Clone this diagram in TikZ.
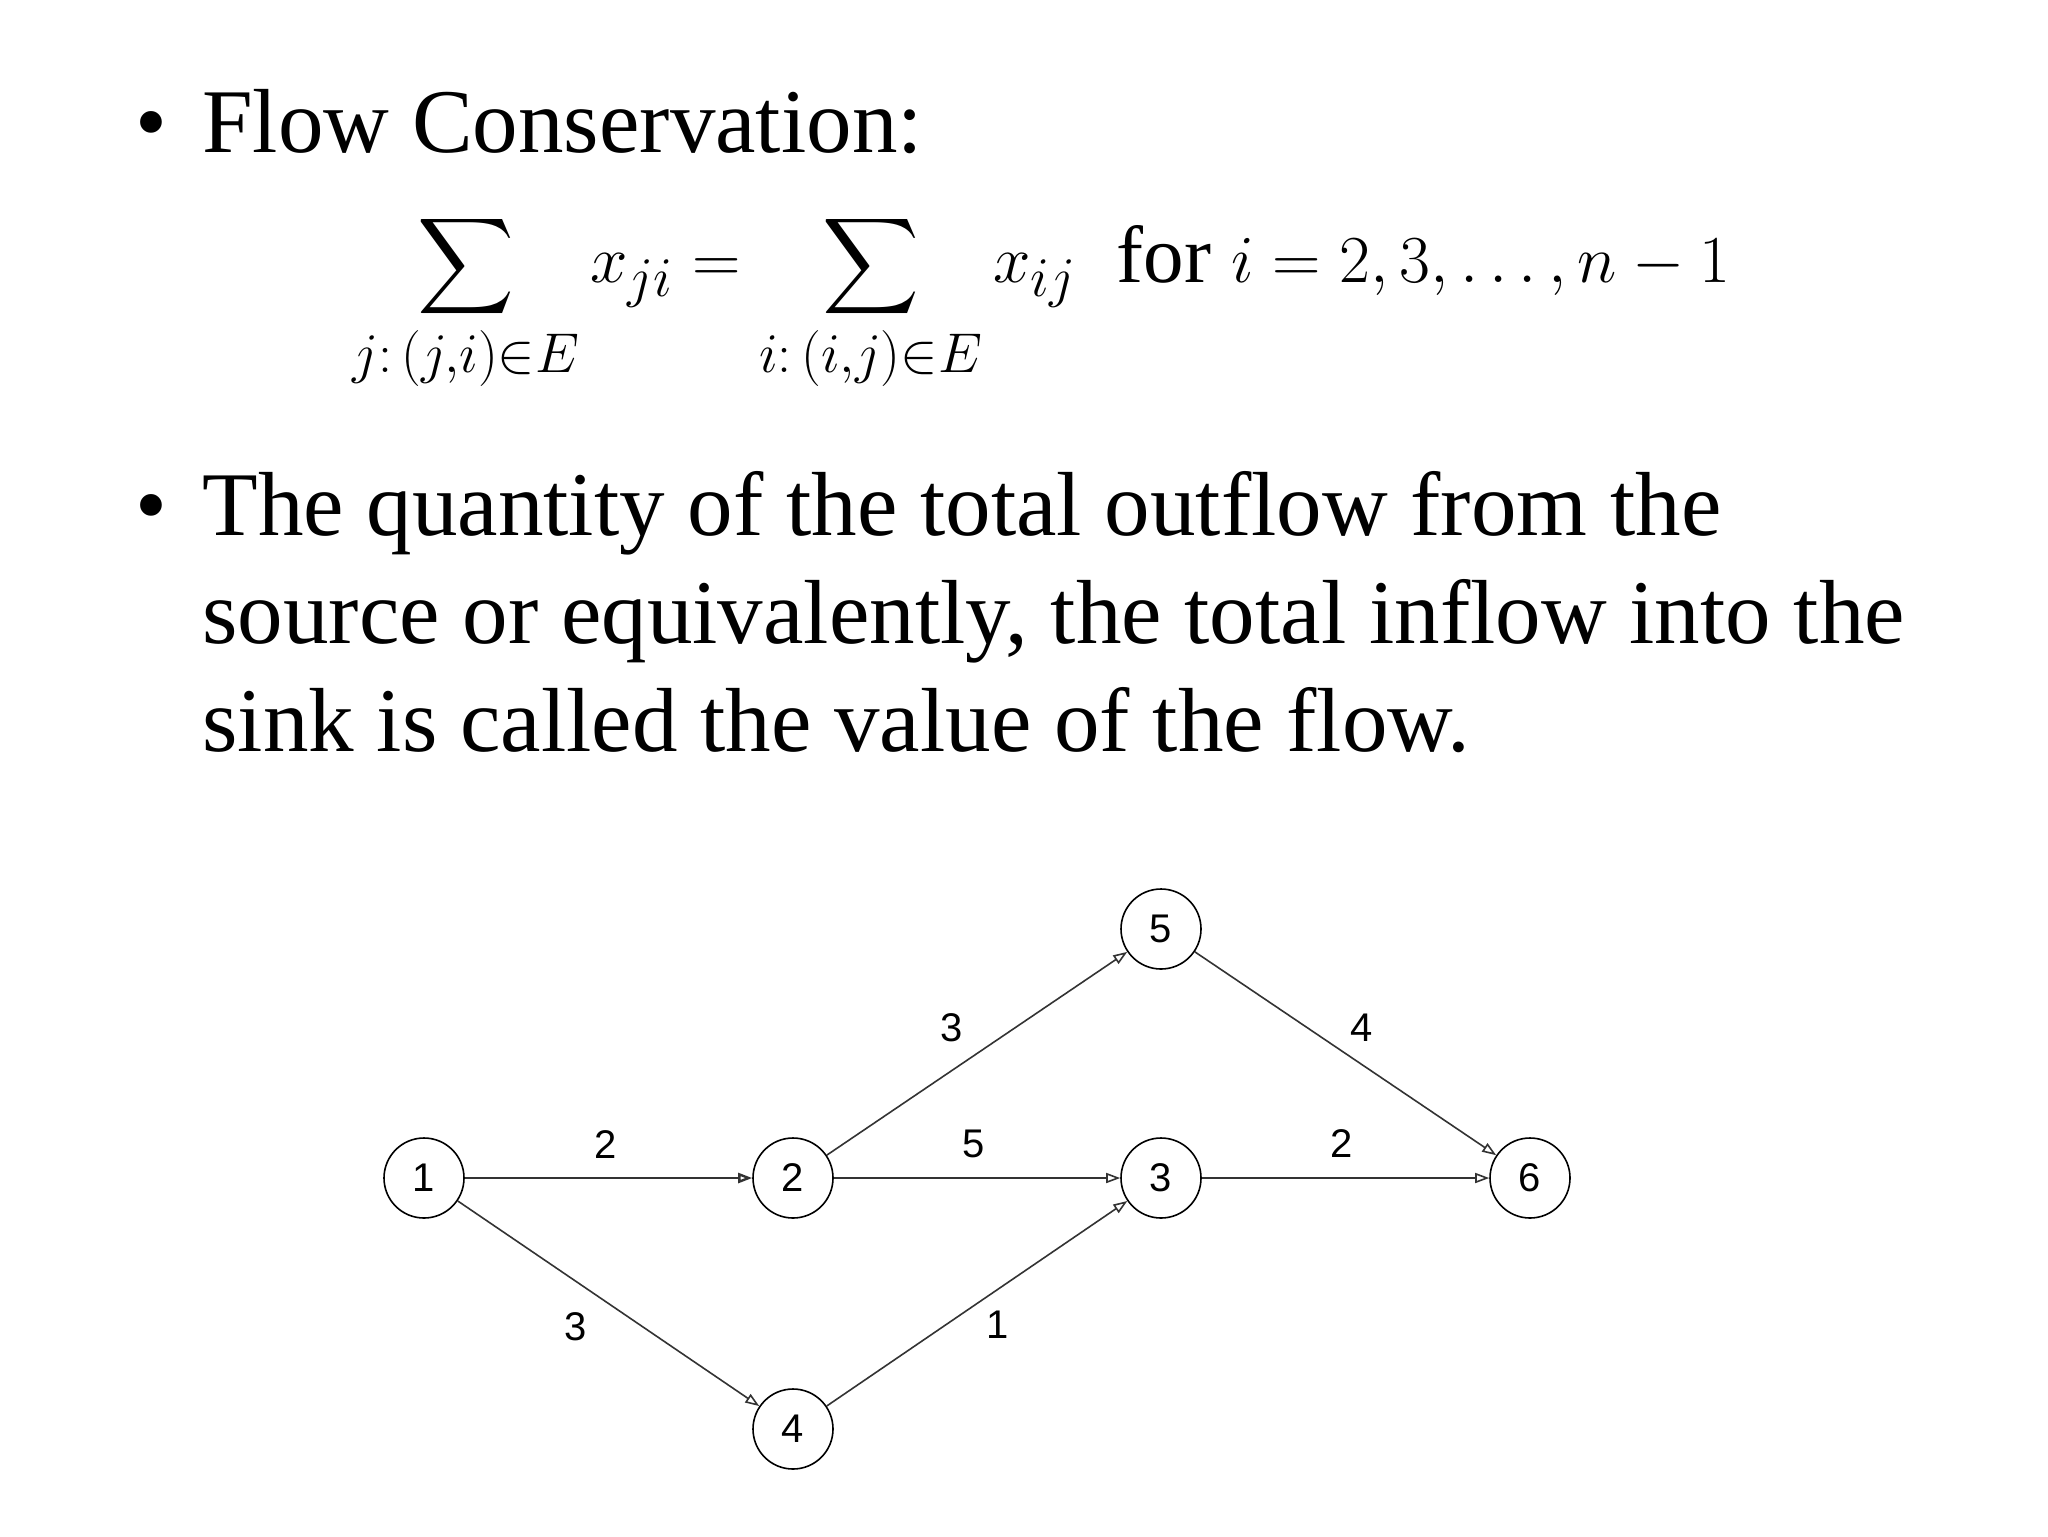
\documentclass[tikz,border=0pt]{standalone}
\usepackage{amsmath}
\usepackage{graphicx}
\usepackage{fontspec}
\setmainfont{Liberation Serif}
\newfontfamily\grfont{Liberation Sans}
\usetikzlibrary{arrows.meta}
\begin{document}
\begin{tikzpicture}[x=0.5pt,y=-0.5pt,
  txt/.style={anchor=base west,inner sep=0pt,font=\fontsize{45.5}{54}\selectfont},
  vtx/.style={circle,draw,thick,minimum size=40pt,inner sep=0pt,font=\grfont\fontsize{20}{20}\selectfont},
  arc/.style={draw=black!80,line width=0.8pt,-{Triangle[open,length=7pt,width=5pt]}},
  lbl/.style={font=\grfont\fontsize{20}{20}\selectfont,inner sep=0pt}]
\useasboundingbox[fill=white] (0,0) rectangle (2048,1536);
\node[txt] (b1) at (135,152) {\textbullet};
\node[txt] (t1) at (202,152) {Flow Conservation:};
\node[anchor=west,inner sep=0pt,font=\fontsize{30}{36}\selectfont] (f) at (352,303)
 {\scalebox{1.35}{$\displaystyle\sum\limits_{j:\,(j,i)\in E} x_{ji} = \sum\limits_{i:\,(i,j)\in E} x_{ij}\ \ \text{for } i=2,3,\ldots,n-1$}};
\node[txt] (b2) at (135,535) {\textbullet};
\node[txt] (t2) at (202,535) {The quantity of the total outflow from the};
\node[txt] (t3) at (202,643) {source or equivalently, the total inflow into the};
\node[txt] (t4) at (202,751) {sink is called the value of the flow.};
\node[vtx] (n1) at (424,1178) {1};
\node[vtx] (n2) at (793,1178) {2};
\node[vtx] (n3) at (1161,1178) {3};
\node[vtx] (n4) at (793,1429) {4};
\node[vtx] (n5) at (1161,929) {5};
\node[vtx] (n6) at (1530,1178) {6};
\draw[arc,line width=1.2pt] (n1) -- (n2);
\draw[arc] (n1) -- (n4);
\draw[arc] (n2) -- (n5);
\draw[arc] (n2) -- (n3);
\draw[arc] (n4) -- (n3);
\draw[arc] (n5) -- (n6);
\draw[arc] (n3) -- (n6);
\node[lbl] (l12) at (606,1145) {2};
\node[lbl] (l25) at (952,1028) {3};
\node[lbl] (l23) at (974,1144) {5};
\node[lbl] (l56) at (1362,1028) {4};
\node[lbl] (l36) at (1342,1144) {2};
\node[lbl] (l14) at (576,1327) {3};
\node[lbl] (l43) at (998,1325) {1};
\end{tikzpicture}
\end{document}
